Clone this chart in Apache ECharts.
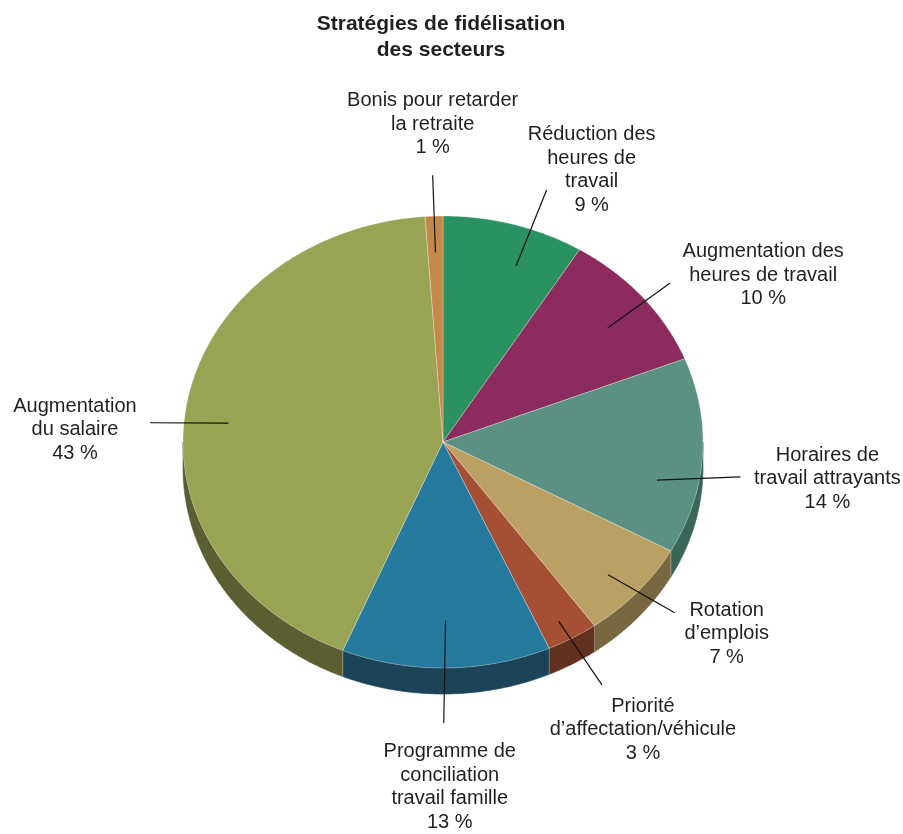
<!DOCTYPE html>
<html>
<head>
<meta charset="utf-8">
<style>
  html, body { margin: 0; padding: 0; background: #ffffff; }
  #chart { width: 903px; height: 834px; }
</style>
<script src="https://cdn.jsdelivr.net/npm/echarts@6/dist/echarts.min.js"></script>
</head>
<body>
<div id="chart"></div>
<script>
// ---------- data ----------
const categories = [
  'Réduction des\nheures de\ntravail',
  'Augmentation des\nheures de travail',
  'Horaires de\ntravail attrayants',
  'Rotation\nd’emplois',
  'Priorité\nd’affectation/véhicule',
  'Programme de\nconciliation\ntravail famille',
  'Augmentation\ndu salaire',
  'Bonis pour retarder\nla retraite'
];
const values = [8.8, 10.2, 14.0, 7.1, 3.2, 13.0, 42.6, 1.1];
const percentLabels = ['9 %', '10 %', '14 %', '7 %', '3 %', '13 %', '43 %', '1 %'];

// ---------- styles / layout ----------
const topColors  = ['#2a9161', '#8c2b5d', '#5b9183', '#baa062', '#a54f34', '#267a9e', '#98a354', '#c4894a'];
const sideColors = ['#1a5a3c', '#571a3a', '#3a6659', '#786841', '#62301f', '#1c4459', '#5a5e30', '#7a5530'];
// label block centre offset from the point at 1.15 radius, and leader-line anchor relative to label centre
const labelOffsets = [[67, -22], [91, 0], [86, 19], [60, 2], [51, 40], [3, 59], [-73, 30], [0, -58]];
const lineAnchors  = [[-45, 20], [-93, 8], [-87, -2], [-52, -21], [-41, -45], [-6, -64], [75, -7], [0, 51]];
// leader-line inner end: [angle shift in degrees from slice middle, radius fraction]
const innerAdjust  = [[4, 0.83], [1.4, 0.81], [8, 0.84], [1.2, 0.865], [0.6, 0.91], [0, 0.79], [-3.6, 0.83], [0, 0.84]];

const CX = 443, CY = 442, RX = 260, RY = 226, DEPTH = 26;
const FONT = 'Liberation Sans, Arial, Helvetica, sans-serif';
const TEXT_COLOR = '#231f20';

const total = values.reduce((a, b) => a + b, 0);
const starts = [];
values.reduce((acc, v, i) => { starts[i] = acc; return acc + v; }, 0);

function pt(t, r, withDepth) {
  const c = Math.cos(t), s = Math.sin(t);
  let y = CY - r * RY * c;
  if (withDepth && c < 0) y += -c * DEPTH;
  return [CX + r * RX * s, y];
}
function arc(a0, a1, dy) {
  const n = Math.max(2, Math.ceil((a1 - a0) / (Math.PI / 360)));
  const pts = [];
  for (let k = 0; k <= n; k++) {
    const t = a0 + (a1 - a0) * k / n;
    pts.push([CX + RX * Math.sin(t), CY - RY * Math.cos(t) + dy]);
  }
  return pts;
}

function renderItem(params, api) {
  const i = params.dataIndex;
  const v = api.value(0);
  const a0 = 2 * Math.PI * starts[i] / total;
  const a1 = 2 * Math.PI * (starts[i] + v) / total;
  const children = [];

  // side wall (visible front half only)
  const s = Math.max(a0, Math.PI / 2), e = Math.min(a1, 3 * Math.PI / 2);
  if (s < e) {
    const topArc = arc(s, e, 0);
    const botArc = arc(s, e, DEPTH).reverse();
    children.push({
      type: 'polygon', z2: 1,
      shape: { points: topArc.concat(botArc) },
      style: { fill: sideColors[i], stroke: sideColors[i], lineWidth: 0.6 }
    });
    if (a0 > Math.PI / 2 && a0 < 3 * Math.PI / 2) {
      const p = [CX + RX * Math.sin(a0), CY - RY * Math.cos(a0)];
      children.push({
        type: 'line', z2: 2,
        shape: { x1: p[0], y1: p[1], x2: p[0], y2: p[1] + DEPTH },
        style: { stroke: 'rgba(255,255,255,0.3)', lineWidth: 1 }
      });
    }
  }

  // top face
  children.push({
    type: 'polygon', z2: 10,
    shape: { points: [[CX, CY]].concat(arc(a0, a1, 0)) },
    style: { fill: topColors[i], stroke: 'rgba(255,255,255,0.35)', lineWidth: 0.8 }
  });

  // label and leader line
  const mid = (a0 + a1) / 2;
  const inner = pt(mid + innerAdjust[i][0] * Math.PI / 180, innerAdjust[i][1], false);
  const outer = pt(mid, 1.15, true);
  const lc = [outer[0] + labelOffsets[i][0], outer[1] + labelOffsets[i][1]];
  const le = [lc[0] + lineAnchors[i][0], lc[1] + lineAnchors[i][1]];
  children.push({
    type: 'line', z2: 20,
    shape: { x1: inner[0], y1: inner[1], x2: le[0], y2: le[1] },
    style: { stroke: '#111111', lineWidth: 1.2 }
  });
  children.push({
    type: 'text', z2: 30,
    style: {
      text: categories[i] + '\n' + percentLabels[i],
      x: lc[0], y: lc[1],
      align: 'center', verticalAlign: 'middle',
      fontSize: 20, fontFamily: FONT, lineHeight: 23.5,
      fill: TEXT_COLOR
    }
  });
  return { type: 'group', children: children };
}

const chart = echarts.init(document.getElementById('chart'), null, { renderer: 'canvas' });
chart.setOption({
  backgroundColor: '#ffffff',
  animation: false,
  title: {
    text: 'Stratégies de fidélisation\ndes secteurs',
    left: 436,
    top: 6,
    textAlign: 'center',
    textStyle: {
      fontFamily: FONT, fontSize: 21, fontWeight: 'bold',
      color: TEXT_COLOR, lineHeight: 26
    }
  },
  series: [{
    type: 'custom',
    name: 'Stratégies de fidélisation des secteurs',
    coordinateSystem: 'none',
    renderItem: renderItem,
    data: values.map((v, i) => ({ value: v, name: categories[i].replace(/\n/g, ' ') }))
  }]
});
</script>
</body>
</html>
